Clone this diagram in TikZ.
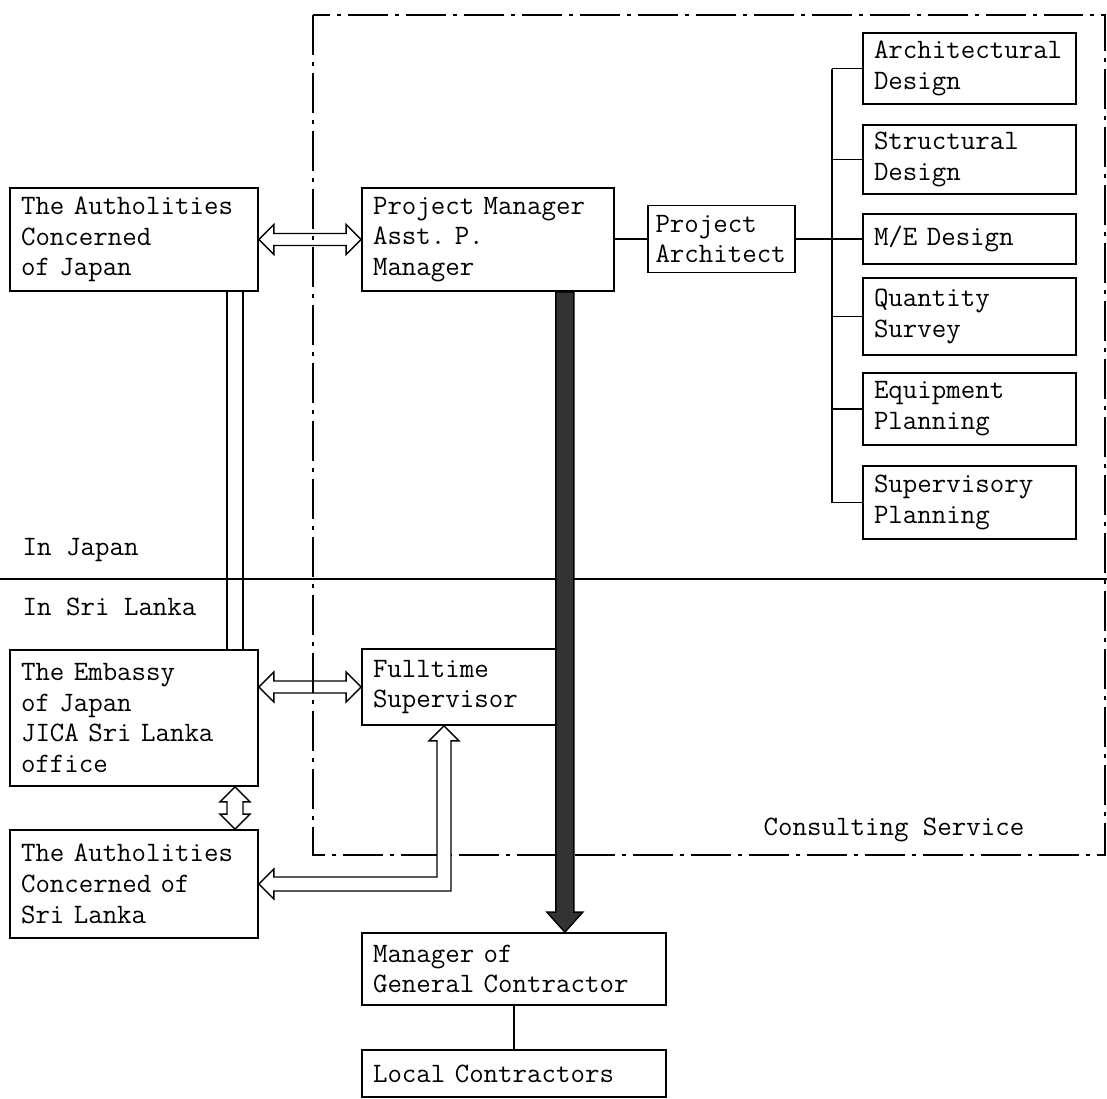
\documentclass[tikz,border=0pt]{standalone}
\usepackage{tikz}
\usetikzlibrary{arrows.meta,calc}

\newcommand{\boxfont}{\fontsize{16}{17.5}\selectfont\ttfamily}

% hollow double arrow, left tip #1, right tip #2
\newcommand{\hollowh}[2]{%
  \draw[hollow] (#1) -- ++(15,-15) -- ++(0,9) -- ($(#2)+(-15,-6)$) -- ++(0,-9) -- (#2)
    -- ++(-15,15) -- ++(0,-9) -- ($(#1)+(15,6)$) -- ++(0,9) -- cycle;}
% hollow double arrow, top tip #1, bottom tip #2
\newcommand{\hollowv}[2]{%
  \draw[hollow] (#1) -- ++(15,15) -- ++(-7,0) -- ($(#2)+(8,-15)$) -- ++(7,0) -- (#2)
    -- ++(-15,-15) -- ++(7,0) -- ($(#1)+(-8,15)$) -- ++(-7,0) -- cycle;}

\tikzset{
  box/.style={draw, line width=1pt, inner xsep=0.22cm, inner ysep=0pt, align=left, font=\boxfont},
  hollow/.style={draw, line width=0.8pt, line join=miter},
  lbl/.style={anchor=base west, font=\boxfont, inner sep=0pt},
}

\begin{document}
\begin{tikzpicture}[x=0.02cm, y=-0.02cm, line width=0.8pt]

    \useasboundingbox (0,0) rectangle (1107,1099);

    % Consulting service area and Japan / Sri Lanka line
    \draw[line width=0.9pt, dash pattern=on 0.8cm off 0.14cm on 0.08cm off 0.14cm]
        (313,15) rectangle (1105,855);
    \draw[line width=0.9pt] (0,579) -- (1107,579);

    \node[lbl] (injp) at (22,555) {In~Japan};
    \node[lbl] (insl) at (22,615) {In~Sri~Lanka};
    \node[lbl] (cs) at (763,835) {Consulting~Service};

    % Boxes
    \node[box, text width=4.52cm, minimum height=2.06cm] (authjp) at (134,239.5)
        {The~Autholities\\Concerned\\of~Japan};
    \node[box, text width=4.60cm, minimum height=2.06cm] (pm) at (488,239.5)
        {Project~Manager\\Asst.~P.\\Manager};
    \node[box, inner xsep=0.15cm, text width=2.64cm, minimum height=1.34cm] (pa) at (721.5,239)
        {Project\\Architect};

    \node[box, text width=3.82cm, minimum height=1.42cm] (arch) at (969.5,68.5) {Architectural\\Design};
    \node[box, text width=3.82cm, minimum height=1.38cm] (struct) at (969.5,159.5) {Structural\\Design};
    \node[box, text width=3.82cm, minimum height=1.00cm] (me) at (969.5,239) {M/E~Design};
    \node[box, text width=3.82cm, minimum height=1.54cm] (qs) at (969.5,316.5) {Quantity\\Survey};
    \node[box, text width=3.82cm, minimum height=1.44cm] (eq) at (969.5,409) {Equipment\\Planning};
    \node[box, text width=3.82cm, minimum height=1.46cm] (sup) at (969.5,502.5) {Supervisory\\Planning};

    \node[box, text width=4.52cm, minimum height=2.72cm] (emb) at (134,718)
        {The~Embassy\\of~Japan\\JICA~Sri~Lanka\\office};
    \node[box, text width=4.52cm, minimum height=2.16cm] (authsl) at (134,884)
        {The~Autholities\\Concerned~of\\Sri~Lanka};
    \node[box, text width=3.56cm, minimum height=1.52cm] (ft) at (462,687)
        {Fulltime\\Supervisor};
    \node[box, text width=5.64cm, minimum height=1.44cm] (gc) at (514,969)
        {Manager~of\\General~Contractor};
    \node[box, text width=5.64cm, minimum height=0.94cm] (lc) at (514,1073.5)
        {Local~Contractors};

    % Design team tree
    \coordinate (trunk) at (832,0);
    \draw (pm.east |- pa.west) -- (pa.west);
    \draw (pa.east) -- (me.west);
    \draw (arch.west -| trunk) -- (sup.west -| trunk);
    \foreach \n in {arch,struct,qs,eq,sup}
        \draw (\n.west -| trunk) -- (\n.west);

    \draw (gc) -- (lc);

    % Double line Japan - Sri Lanka
    \coordinate (dl) at ($(authjp.south)+(101,0)$);
    \coordinate (db) at (emb.north -| dl);
    \foreach \dx in {-8,8}
        \draw ($(dl)+(\dx,0)$) -- ($(db)+(\dx,0)$);

    % Hollow arrows
    \coordinate (et) at (emb.east |- ft.west);
    \coordinate (es) at (emb.south -| dl);
    \coordinate (an) at (authsl.north -| dl);
    \hollowh{authjp.east}{pm.west}
    \hollowh{et}{ft.west}
    \hollowv{es}{an}

    \coordinate (lt) at ($(ft.south)+(-18,0)$);
    \coordinate (ll) at (authsl.east);
    \coordinate (lk) at (lt |- ll);
    \draw[hollow, fill=white] (lt) -- ++(15,15) -- ++(-8,0) -- ($(lk)+(7,7)$)
        -- ($(ll)+(15,7)$) -- ++(0,8) -- (ll) -- ++(15,-15) -- ++(0,8)
        -- ($(lk)+(-7,-7)$) -- ($(lt)+(-7,15)$) -- ++(-8,0) -- cycle;

    % Thick arrow to the contractor
    \coordinate (ts) at ($(pm.south east)+(-50,0)$);
    \coordinate (te) at (gc.north -| ts);
    \filldraw[fill=black!80, line width=0.8pt] ($(ts)+(-9,0)$) -- ($(te)+(-9,-20)$)
        -- ($(te)+(-18,-20)$) -- (te) -- ($(te)+(18,-20)$) -- ($(te)+(9,-20)$)
        -- ($(ts)+(9,0)$) -- cycle;

\end{tikzpicture}
\end{document}
